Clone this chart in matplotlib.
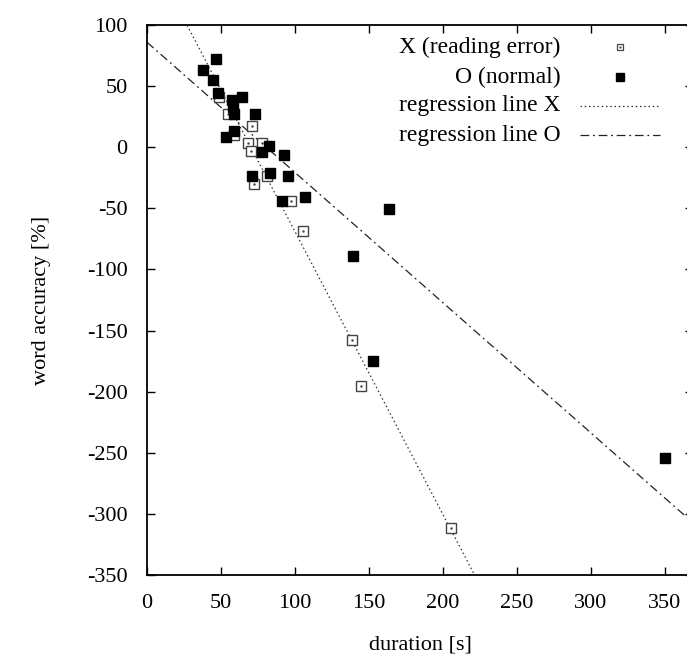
import numpy as np
import matplotlib
matplotlib.use('Agg')
import matplotlib.pyplot as plt

plt.rcParams['font.family'] = ['Liberation Serif', 'DejaVu Serif']
plt.rcParams['axes.unicode_minus'] = False

# reading error group (open squares)
open_x = [48.9, 54.5, 71.2, 58.8, 68.0, 77.7, 70.0, 81.3, 72.3, 97.3, 105.6, 138.5, 144.4, 205.4]
open_y = [41.3, 27.5, 17.2, 9.8, 3.8, 3.8, -3.0, -23.9, -30.2, -44.3, -68.5, -157.7, -195.2, -311.8]

# normal group (filled squares)
filled_x = [46.8, 38.0, 44.8, 48.2, 57.6, 64.2, 58.3, 59.0, 73.2, 59.0, 53.6, 82.6, 77.9,
            92.6, 70.7, 83.3, 95.5, 91.4, 107.0, 163.7, 139.4, 152.9, 350.2]
filled_y = [72.4, 62.8, 55.2, 44.6, 38.3, 41.0, 32.9, 27.5, 27.5, 13.3, 8.0, 0.8, -3.8,
            -6.5, -23.7, -20.7, -23.7, -44.3, -41.0, -50.8, -89.2, -174.8, -253.9]

# regression lines (slope, intercept)
reg_x = (-2.315, 162.5)
reg_o = (-1.0655, 85.9)

labels = ['X (reading error)', 'O (normal)', 'regression line X', 'regression line O']

fig = plt.figure(figsize=(6.87, 6.55), dpi=100)
ax = fig.add_axes([147/687, 80/655, 546/687, 550/655])

xs = np.linspace(0, 400, 200)
dot_style = (0, (1.2, 2.2))
dashdot_style = (0, (7, 3, 1.5, 3))
ax.plot(xs, reg_x[0]*xs + reg_x[1], color='#333333', lw=0.9, ls=dot_style, zorder=1)
ax.plot(xs, reg_o[0]*xs + reg_o[1], color='#222222', lw=0.9, ls=dashdot_style, zorder=1)

ax.plot(open_x, open_y, 's', ms=6.8, mfc='white', mec='#444444', mew=1.0, zorder=2)
ax.plot(open_x, open_y, '.', ms=1.5, color='#444444', zorder=3)
ax.plot(filled_x, filled_y, 's', ms=6.8, color='black', zorder=4)

ax.set_xlim(0, 369)
ax.set_ylim(-350, 100)
ax.set_xticks(np.arange(0, 351, 50))
ax.set_yticks(np.arange(-350, 101, 50))
ax.tick_params(direction='in', length=6, width=1, top=True, right=True, labelsize=16)
ax.tick_params(axis='x', pad=14)
ax.tick_params(axis='y', pad=14)
for s in ax.spines.values():
    s.set_linewidth(1.3)

ax.set_xlabel('duration [s]', fontsize=16, labelpad=16)
ax.set_ylabel('word accuracy [%]', fontsize=16, labelpad=26)

# gnuplot style key, text right aligned and sample on the right
rows = [0.96, 0.905, 0.853, 0.80]
tx, sx, l0, l1 = 0.758, 0.866, 0.793, 0.94
for lab, ry in zip(labels, rows):
    ax.text(tx, ry, lab, transform=ax.transAxes, ha='right', va='center', fontsize=17)
ax.plot([sx], [rows[0]], 's', ms=5, mfc='white', mec='#444444', mew=0.9, transform=ax.transAxes)
ax.plot([sx], [rows[0]], '.', ms=1.2, color='#444444', transform=ax.transAxes)
ax.plot([sx], [rows[1]], 's', ms=6, color='black', transform=ax.transAxes)
ax.plot([l0, l1], [rows[2]]*2, color='#333333', lw=0.9, ls=dot_style, transform=ax.transAxes)
ax.plot([l0, l1], [rows[3]]*2, color='#222222', lw=0.9, ls=dashdot_style, transform=ax.transAxes)

plt.savefig('out.png', dpi=100)
